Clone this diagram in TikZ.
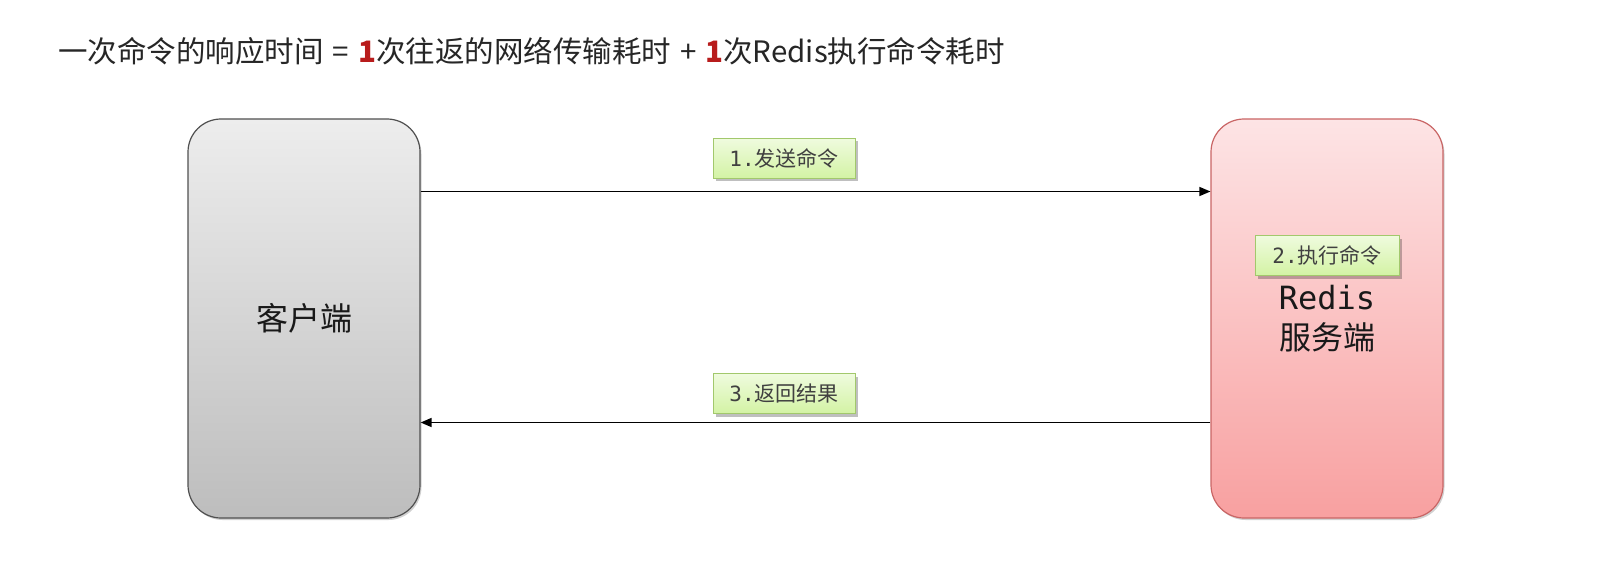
\documentclass[tikz,border=0pt]{standalone}
\usepackage{fontspec}
\newfontfamily\cjk{Noto Sans CJK SC}
\newfontfamily\mono{DejaVu Sans Mono}
\usetikzlibrary{shadows,arrows.meta}
\definecolor{srvtop}{HTML}{FDE4E5}
\definecolor{srvbot}{HTML}{F8A0A0}
\definecolor{srvborder}{HTML}{C96565}
\definecolor{clitop}{HTML}{EDEDED}
\definecolor{clibot}{HTML}{BDBDBD}
\definecolor{cliborder}{HTML}{505050}
\definecolor{tagtop}{HTML}{EFFBDE}
\definecolor{tagbot}{HTML}{D3F3A4}
\definecolor{tagborder}{HTML}{A2C86C}
\definecolor{tagtext}{HTML}{404040}
\definecolor{titlered}{HTML}{B81C1C}
\definecolor{titletext}{HTML}{262626}
\tikzset{
  bigbox/.style={rounded corners=33pt, minimum width=232pt, minimum height=399pt,
    inner sep=0pt, line width=1.2pt, align=center, text=black!90,
    font=\fontsize{32}{40}\selectfont,
    drop shadow={shadow xshift=1.5pt, shadow yshift=-2pt, fill=black, opacity=0.18}},
  client/.style={bigbox, draw=cliborder, top color=clitop, bottom color=clibot},
  server/.style={bigbox, draw=srvborder, top color=srvtop, bottom color=srvbot},
  tag/.style={draw=tagborder, line width=1pt, top color=tagtop, bottom color=tagbot,
    minimum width=142pt, minimum height=40pt, inner sep=0pt, text=tagtext,
    font=\fontsize{21}{24}\selectfont,
    drop shadow={shadow xshift=2.5pt, shadow yshift=-3pt, fill=black, opacity=0.25}},
  flow/.style={-{Triangle[length=11pt,width=9pt]}, line width=1.4pt, black}
}
\newcommand{\redone}{{\bfseries\color{titlered}1}}
\begin{document}
\begin{tikzpicture}[x=1pt,y=-1pt]
\useasboundingbox (0,0) rectangle (1608,564);
\node[anchor=west, inner sep=0pt, text=titletext, font=\cjk\fontsize{29.5}{32}\selectfont] (title) at (58,51.5)
  {一次命令的响应时间\hspace{9pt}=\hspace{9pt}\redone 次往返的网络传输耗时\hspace{9pt}+\hspace{9pt}\redone 次Redis执行命令耗时};
\node[client, font=\cjk\fontsize{32}{40}\selectfont] (client) at (304,318.5) {客户端};
\node[server] (server) at (1327,318.5)
  {{\mono Redis}\\{\cjk 服务端}};
\node[tag] (send) at (784,158.5) {{\mono 1.}{\cjk 发送命令}};
\node[tag, minimum width=144pt] (exec) at (1327,255.5) {{\mono 2.}{\cjk 执行命令}};
\node[tag] (ret) at (784,393.5) {{\mono 3.}{\cjk 返回结果}};
\draw[flow] ([yshift=127pt]client.east) -- ([yshift=127pt]server.west);
\draw[flow] ([yshift=-104pt]server.west) -- ([yshift=-104pt]client.east);
\end{tikzpicture}
\end{document}
